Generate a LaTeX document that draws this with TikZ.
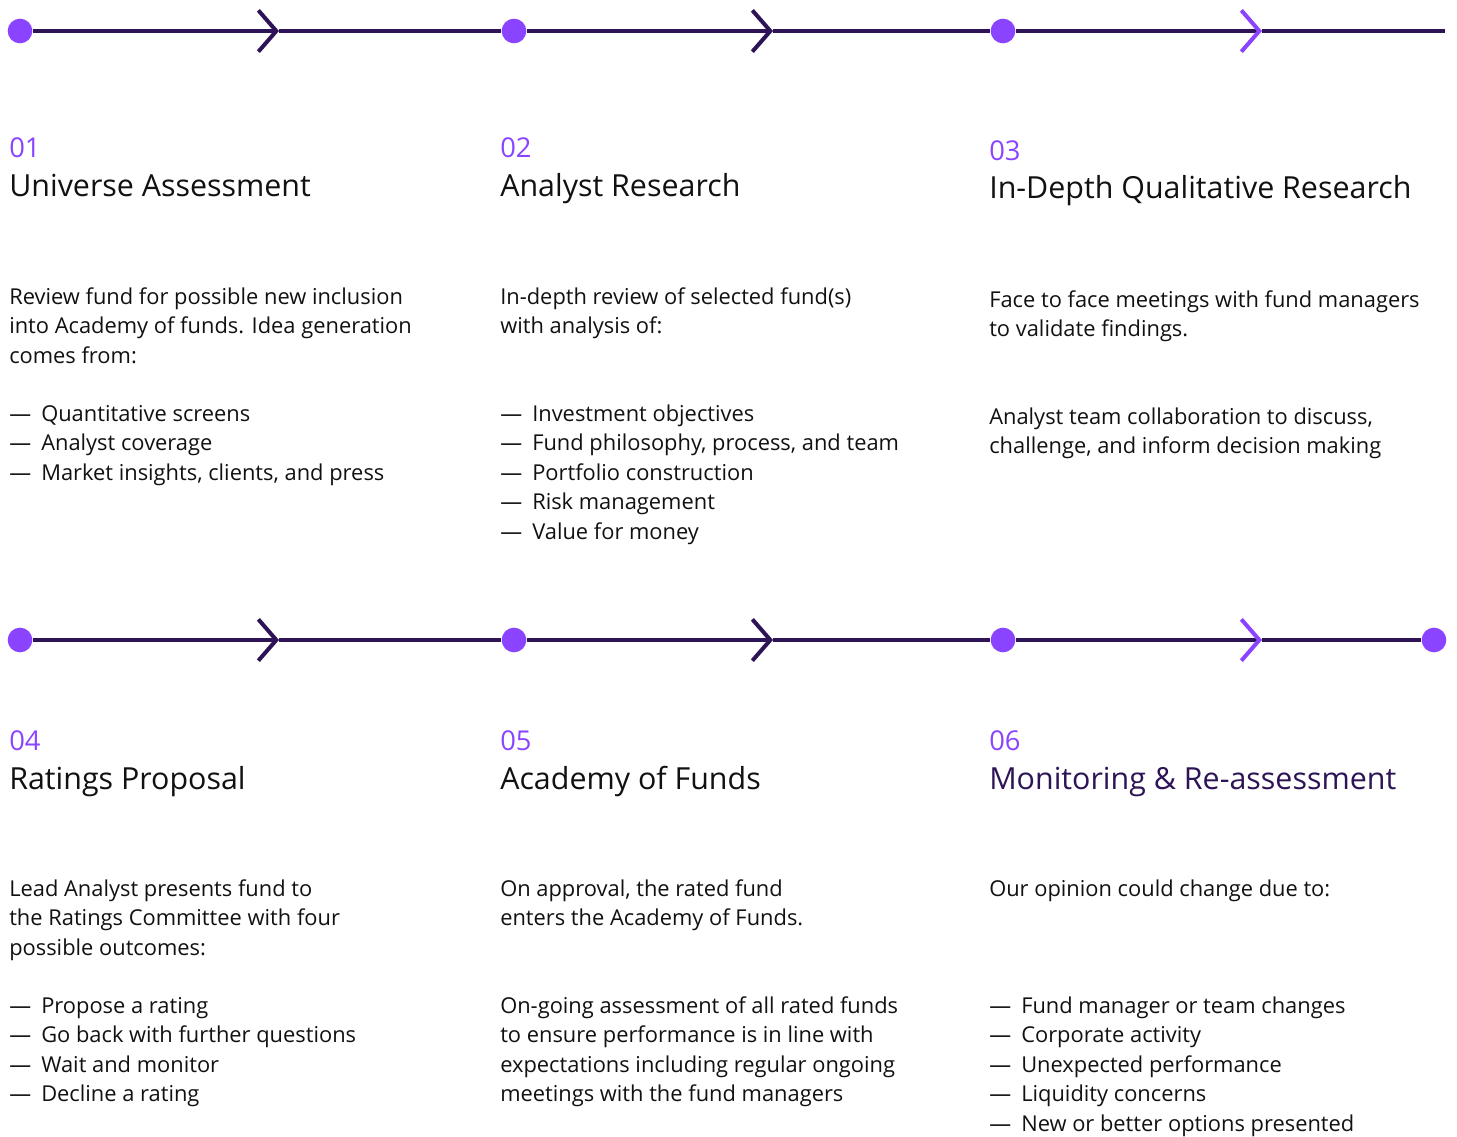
\documentclass[tikz,border=0pt]{standalone}
\usepackage{fontspec}
\setmainfont{Open Sans}
\usepackage{xcolor}
\usetikzlibrary{arrows.meta}

\definecolor{trackdark}{RGB}{46,20,87}
\definecolor{dotviolet}{RGB}{138,68,255}
\definecolor{inkblack}{RGB}{17,17,17}

\newcommand{\dashitem}[1]{\makebox[24pt][l]{---}#1}

\tikzset{
  track/.style={draw=trackdark, line width=3pt},
  chevtip/.style={-{Straight Barb[length=13.5pt, width=31pt, line width=3pt]}},
  chevtipv/.style={-{Straight Barb[length=13.5pt, width=31pt, line width=3pt, color=dotviolet]}},
  dot/.style={circle, fill=dotviolet, inner sep=0pt, minimum size=18.5pt},
  numtxt/.style={anchor=base west, inner sep=0pt, text=dotviolet, font=\fontsize{20.5pt}{24pt}\selectfont},
  titletxt/.style={anchor=base west, inner sep=0pt, text=inkblack, font=\fontsize{22.8pt}{28pt}\selectfont},
  % base of a multi-line node = baseline of its last line
  bodytxt/.style={anchor=base west, inner sep=0pt, text=inkblack, align=left, font=\fontsize{16.4pt}{22.1pt}\selectfont}
}

\begin{document}
\begin{tikzpicture}[x=0.75pt,y=0.75pt,yscale=-1,xscale=1]
\useasboundingbox (0,0) rectangle (1457,1136);

%Shape: Circle -- top row
\node (d1) [dot] at (20,31) {};
\node (d2) [dot] at (514,31) {};
\node (d3) [dot] at (1003,31) {};
\coordinate (e3) at (1445,31);
\coordinate (c1) at (279,31);
\coordinate (c2) at (773,31);
\coordinate (c3) at (1262,31);
%Shape: Circle -- bottom row
\node (d4) [dot] at (20,640) {};
\node (d5) [dot] at (514,640) {};
\node (d6) [dot] at (1003,640) {};
\node (d7) [dot] at (1434,640) {};
\coordinate (c4) at (279,640);
\coordinate (c5) at (773,640);
\coordinate (c6) at (1262,640);

%Straight Lines
\draw [track, chevtip] (d1) -- (c1);
\draw [track] (c1) -- (d2);
\draw [track, chevtip] (d2) -- (c2);
\draw [track] (c2) -- (d3);
\draw [track, chevtipv] (d3) -- (c3);
\draw [track] (c3) -- (e3);
\draw [track, chevtip] (d4) -- (c4);
\draw [track] (c4) -- (d5);
\draw [track, chevtip] (d5) -- (c5);
\draw [track] (c5) -- (d6);
\draw [track, chevtipv] (d6) -- (c6);
\draw [track] (c6) -- (d7);

% Text Node -- 01
\draw (9,157) node (n1) [numtxt] {01};
\draw (9,196) node (t1) [titletxt] {Universe Assessment};
\draw (9,363) node (b1) [bodytxt] {Review fund for possible new inclusion\\into Academy of funds. Idea generation\\comes from:};
\draw (9,480) node (l1) [bodytxt] {\dashitem{Quantitative screens}\\\dashitem{Analyst coverage}\\\dashitem{Market insights, clients, and press}};

% Text Node -- 02
\draw (500,157) node (n2) [numtxt] {02};
\draw (500,196) node (t2) [titletxt] {Analyst Research};
\draw (500,333.5) node (b2) [bodytxt] {In-depth review of selected fund(s)\\with analysis of:};
\draw (500,539) node (l2) [bodytxt] {\dashitem{Investment objectives}\\\dashitem{Fund philosophy, process, and team}\\\dashitem{Portfolio construction}\\\dashitem{Risk management}\\\dashitem{Value for money}};

% Text Node -- 03
\draw (989,160) node (n3) [numtxt] {03};
\draw (989,198) node (t3) [titletxt] {In-Depth Qualitative Research};
\draw (989,336.5) node (b3) [bodytxt] {Face to face meetings with fund managers\\to validate findings.};
\draw (989,453.5) node (p3) [bodytxt] {Analyst team collaboration to discuss,\\challenge, and inform decision making};

% Text Node -- 04
\draw (9,750) node (n4) [numtxt] {04};
\draw (9,789) node (t4) [titletxt] {Ratings Proposal};
\draw (9,955) node (b4) [bodytxt] {Lead Analyst presents fund to\\the Ratings Committee with four\\possible outcomes:};
\draw (9,1101.5) node (l4) [bodytxt] {\dashitem{Propose a rating}\\\dashitem{Go back with further questions}\\\dashitem{Wait and monitor}\\\dashitem{Decline a rating}};

% Text Node -- 05
\draw (500,750) node (n5) [numtxt] {05};
\draw (500,789) node (t5) [titletxt] {Academy of Funds};
\draw (500,925.5) node (b5) [bodytxt] {On approval, the rated fund\\enters the Academy of Funds.};
\draw (500,1101.5) node (p5) [bodytxt] {On-going assessment of all rated funds\\to ensure performance is in line with\\expectations including regular ongoing\\meetings with the fund managers};

% Text Node -- 06
\draw (989,750) node (n6) [numtxt] {06};
\draw (989,789) node (t6) [titletxt, text=trackdark] {Monitoring \& Re-assessment};
\draw (989,896) node (b6) [bodytxt] {Our opinion could change due to:};
\draw (989,1131) node (l6) [bodytxt] {\dashitem{Fund manager or team changes}\\\dashitem{Corporate activity}\\\dashitem{Unexpected performance}\\\dashitem{Liquidity concerns}\\\dashitem{New or better options presented}};
\end{tikzpicture}
\end{document}
